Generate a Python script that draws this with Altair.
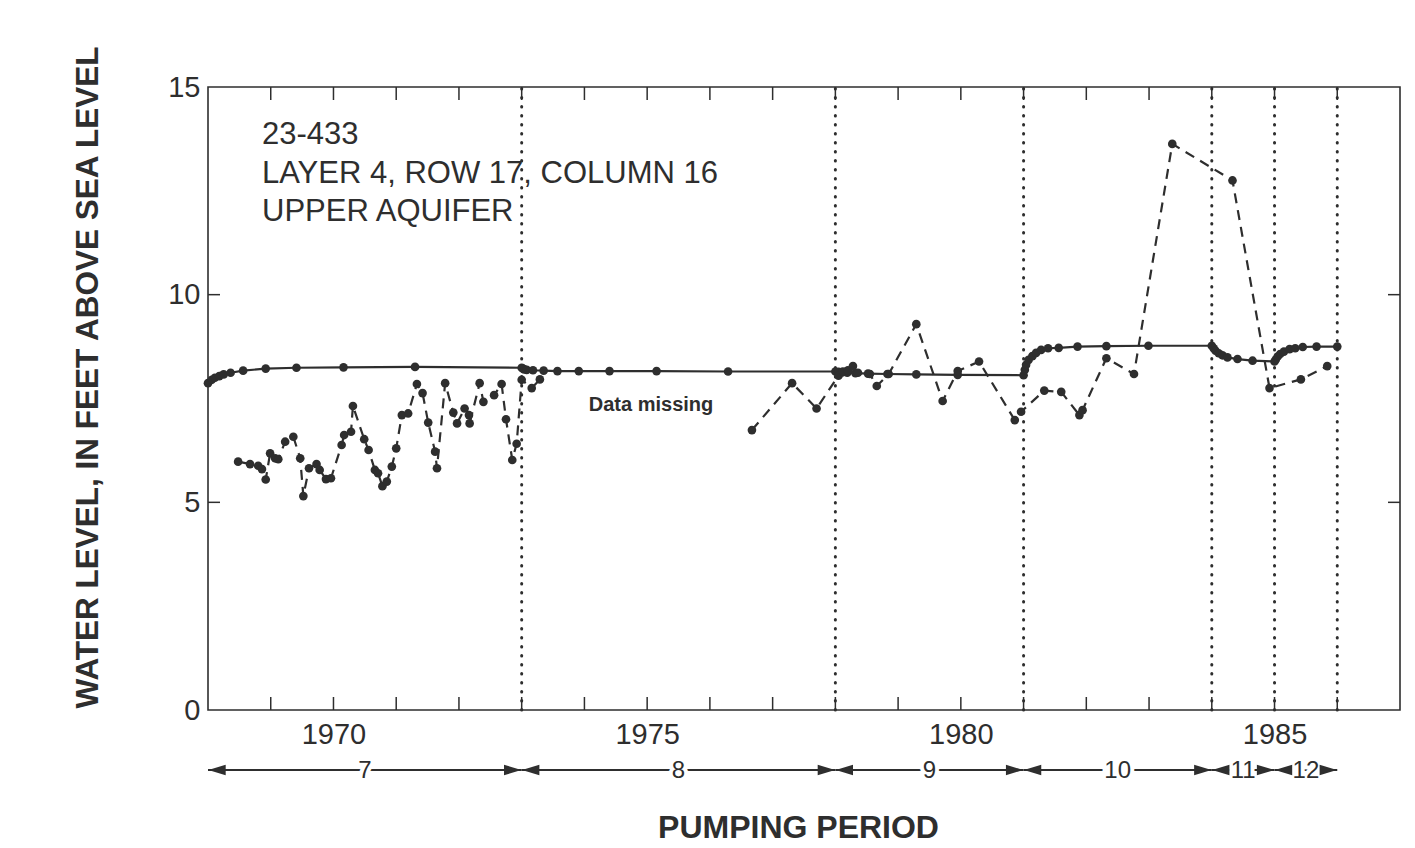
import altair as alt
import pandas as pd

# ---------------- data ----------------
# Simulated water level (solid line with dots)
sim_year = [1968.00, 1968.06, 1968.11, 1968.18, 1968.25, 1968.36, 1968.56, 1968.92, 1969.41, 1970.16, 1971.30, 1973.00,
            1973.02, 1973.04, 1973.08, 1973.18, 1973.35, 1973.57, 1973.91, 1974.40, 1975.15, 1976.29, 1978.00,
            1978.05, 1978.11, 1978.19, 1978.32, 1978.52, 1978.83, 1979.29, 1979.95, 1981.00,
            1981.02, 1981.04, 1981.08, 1981.14, 1981.20, 1981.28, 1981.39, 1981.56, 1981.86, 1982.32, 1982.99, 1984.00,
            1984.03, 1984.06, 1984.11, 1984.17, 1984.25, 1984.41, 1984.65, 1985.00,
            1985.02, 1985.05, 1985.09, 1985.15, 1985.24, 1985.33, 1985.45, 1985.67, 1986.00]
sim_level = [7.87, 7.95, 8.00, 8.04, 8.08, 8.12, 8.17, 8.22, 8.24, 8.25, 8.26, 8.24,
             8.22, 8.20, 8.19, 8.18, 8.17, 8.16, 8.16, 8.16, 8.16, 8.15, 8.15,
             8.14, 8.13, 8.12, 8.11, 8.10, 8.09, 8.08, 8.07, 8.06,
             8.19, 8.31, 8.43, 8.52, 8.60, 8.67, 8.71, 8.72, 8.75, 8.76, 8.77, 8.77,
             8.71, 8.65, 8.59, 8.54, 8.49, 8.45, 8.41, 8.39,
             8.44, 8.51, 8.57, 8.63, 8.69, 8.71, 8.74, 8.75, 8.75]

# Observed water level (dashed line with dots), two segments around the data gap
obs1_year = [1968.48, 1968.67, 1968.80, 1968.86, 1968.92, 1968.99, 1969.07, 1969.12, 1969.23, 1969.36,
             1969.47, 1969.52, 1969.61, 1969.73, 1969.78, 1969.88, 1969.96, 1970.13, 1970.17, 1970.28,
             1970.31, 1970.49, 1970.56, 1970.66, 1970.71, 1970.78, 1970.85, 1970.93, 1971.00, 1971.09,
             1971.19, 1971.33, 1971.42, 1971.51, 1971.62, 1971.65, 1971.78, 1971.91, 1971.97, 1972.09,
             1972.16, 1972.17, 1972.33, 1972.39, 1972.56, 1972.68, 1972.75, 1972.85, 1972.92, 1973.00,
             1973.16, 1973.29]
obs1_level = [5.98, 5.92, 5.88, 5.80, 5.55, 6.18, 6.06, 6.04, 6.46, 6.58,
              6.06, 5.15, 5.82, 5.92, 5.78, 5.56, 5.58, 6.38, 6.62, 6.70,
              7.32, 6.52, 6.26, 5.78, 5.70, 5.39, 5.50, 5.86, 6.30, 7.10,
              7.14, 7.85, 7.63, 6.92, 6.22, 5.82, 7.87, 7.16, 6.90, 7.26,
              7.10, 6.90, 7.87, 7.42, 7.58, 7.85, 7.00, 6.02, 6.41, 7.95,
              7.75, 7.96]
obs2_year = [1976.67, 1977.31, 1977.70, 1978.05, 1978.12, 1978.20, 1978.28, 1978.36, 1978.55, 1978.66,
             1978.85, 1979.29, 1979.71, 1979.95, 1980.29, 1980.86, 1980.96, 1981.33, 1981.60, 1981.89,
             1981.94, 1982.32, 1982.76, 1983.37, 1984.33, 1984.92, 1985.42, 1985.84]
obs2_level = [6.74, 7.87, 7.26, 8.05, 8.15, 8.18, 8.28, 8.12, 8.09, 7.80,
              8.09, 9.29, 7.44, 8.16, 8.39, 6.98, 7.18, 7.69, 7.66, 7.10,
              7.22, 8.47, 8.09, 13.63, 12.75, 7.75, 7.96, 8.28]

period_start = [1968, 1973, 1978, 1981, 1984, 1985]
period_end = [1973, 1978, 1981, 1984, 1985, 1986]
period_label = ["7", "8", "9", "10", "11", "12"]
boundary_years = [1973, 1978, 1981, 1984, 1985, 1986]
year_ticks = list(range(1969, 1987))
level_ticks = [5, 10]
x_label_years = [1970, 1975, 1980, 1985]
y_label_values = [0, 5, 10, 15]
note_lines = ["23-433", "LAYER 4, ROW 17, COLUMN 16", "UPPER AQUIFER"]
gap_note = "Data missing"

# ---------------- layout / style ----------------
W, H = 1192, 623
INK = "#2e2e2e"
FONT = "Liberation Sans"

sim = pd.DataFrame({"year": sim_year, "level": sim_level})
obs = pd.concat([
    pd.DataFrame({"year": obs1_year, "level": obs1_level, "seg": 1}),
    pd.DataFrame({"year": obs2_year, "level": obs2_level, "seg": 2}),
])
per = pd.DataFrame({"start": period_start, "end": period_end, "label": period_label})
per["mid"] = (per["start"] + per["end"]) / 2
bnd = pd.DataFrame({"year": boundary_years, "lo": 0, "hi": 15})
xt = pd.DataFrame({"year": year_ticks})
yt = pd.DataFrame({"level": level_ticks})

xscale = alt.Scale(domain=[1968, 1987], nice=False, zero=False)
yscale = alt.Scale(domain=[0, 15], nice=False)
xaxis = alt.Axis(values=x_label_years, format="d", title="PUMPING PERIOD", ticks=False, domain=False,
                 grid=False, labelFontSize=29, labelPadding=10, labelColor=INK, labelFont=FONT,
                 labelFlush=False, titleFont=FONT, titleFontSize=32, titleFontWeight="bold",
                 titleColor=INK, titleX=590, titleY=127, titleAlign="center", titleBaseline="alphabetic")
yaxis = alt.Axis(values=y_label_values, title="WATER LEVEL, IN FEET ABOVE SEA LEVEL", ticks=False,
                 domain=False, grid=False, labelFontSize=29, labelPadding=8, labelColor=INK,
                 labelFont=FONT, labelFlush=False, titleFont=FONT, titleFontSize=31.5,
                 titleFontWeight="bold", titleColor=INK, titleX=-120, titleY=290, titleAngle=270,
                 titleAlign="center", titleBaseline="middle")


def X(field):
    return alt.X(f"{field}:Q", scale=xscale, axis=xaxis)


def Y(field):
    return alt.Y(f"{field}:Q", scale=yscale, axis=yaxis)


bounds = alt.Chart(bnd).mark_rule(color=INK, strokeWidth=3, strokeDash=[0.5, 8.5], strokeCap="round").encode(
    x=X("year"), y=Y("lo"), y2="hi:Q")

sim_line = alt.Chart(sim).mark_line(color=INK, strokeWidth=2.2).encode(x=X("year"), y=Y("level"))
sim_pts = alt.Chart(sim).mark_circle(color=INK, size=75, opacity=1).encode(x=X("year"), y=Y("level"))
obs_line = alt.Chart(obs).mark_line(color=INK, strokeWidth=2.2, strokeDash=[10, 7]).encode(
    x=X("year"), y=Y("level"), detail="seg:N")
obs_pts = alt.Chart(obs).mark_circle(color=INK, size=75, opacity=1).encode(x=X("year"), y=Y("level"))

tick_len = 13
bot_ticks = alt.Chart(xt).mark_rule(color=INK, strokeWidth=1.5).encode(
    x=X("year"), y=alt.value(H), y2=alt.value(H - tick_len))
top_ticks = alt.Chart(xt).mark_rule(color=INK, strokeWidth=1.5).encode(
    x=X("year"), y=alt.value(0), y2=alt.value(tick_len))
left_ticks = alt.Chart(yt).mark_rule(color=INK, strokeWidth=1.5).encode(
    y=Y("level"), x=alt.value(0), x2=alt.value(12))
right_ticks = alt.Chart(yt).mark_rule(color=INK, strokeWidth=1.5).encode(
    y=Y("level"), x=alt.value(W), x2=alt.value(W - 12))

note_layers = []
for i, line in enumerate(note_lines):
    note_layers.append(
        alt.Chart(pd.DataFrame({"t": [line]})).mark_text(
            align="left", baseline="middle", fontSize=31, font=FONT, color=INK).encode(
            x=alt.value(54), y=alt.value(48 + 38.5 * i), text="t:N"))

gap_text = alt.Chart(pd.DataFrame({"t": [gap_note]})).mark_text(
    align="center", baseline="middle", fontSize=20, fontWeight="bold", font=FONT, color=INK).encode(
    x=alt.value(443), y=alt.value(318), text="t:N")

ARROW_Y = H + 60
prule = alt.Chart(per).mark_rule(color=INK, strokeWidth=1.8).encode(
    x=X("start"), x2="end:Q", y=alt.value(ARROW_Y))
larrow = alt.Chart(per).mark_point(shape="M -1 0 L 1 -0.6 L 1 0.6 Z", filled=True, size=300,
                                   color=INK, opacity=1).encode(
    x=X("start"), y=alt.value(ARROW_Y), xOffset=alt.value(9))
rarrow = alt.Chart(per).mark_point(shape="M 1 0 L -1 -0.6 L -1 0.6 Z", filled=True, size=300,
                                   color=INK, opacity=1).encode(
    x=X("end"), y=alt.value(ARROW_Y), xOffset=alt.value(-9))
plabel_halo = alt.Chart(per).mark_text(fontSize=24, font=FONT, color="white", stroke="white",
                                       strokeWidth=8, baseline="middle").encode(
    x=X("mid"), y=alt.value(ARROW_Y + 1), text="label:N")
plabel = alt.Chart(per).mark_text(fontSize=24, font=FONT, color=INK, baseline="middle").encode(
    x=X("mid"), y=alt.value(ARROW_Y + 1), text="label:N")

chart = alt.layer(
    bounds, sim_line, obs_line, sim_pts, obs_pts,
    bot_ticks, top_ticks, left_ticks, right_ticks,
    *note_layers, gap_text,
    prule, plabel_halo, larrow, rarrow, plabel,
).properties(
    width=W, height=H,
    padding={"left": 200, "top": 79, "right": 5, "bottom": 136},
    autosize=alt.AutoSizeParams(type="none"),
    background="white",
).configure_view(stroke=INK, strokeWidth=1.6)

chart.save("out.html", embed_options={"renderer": "svg", "actions": False})
